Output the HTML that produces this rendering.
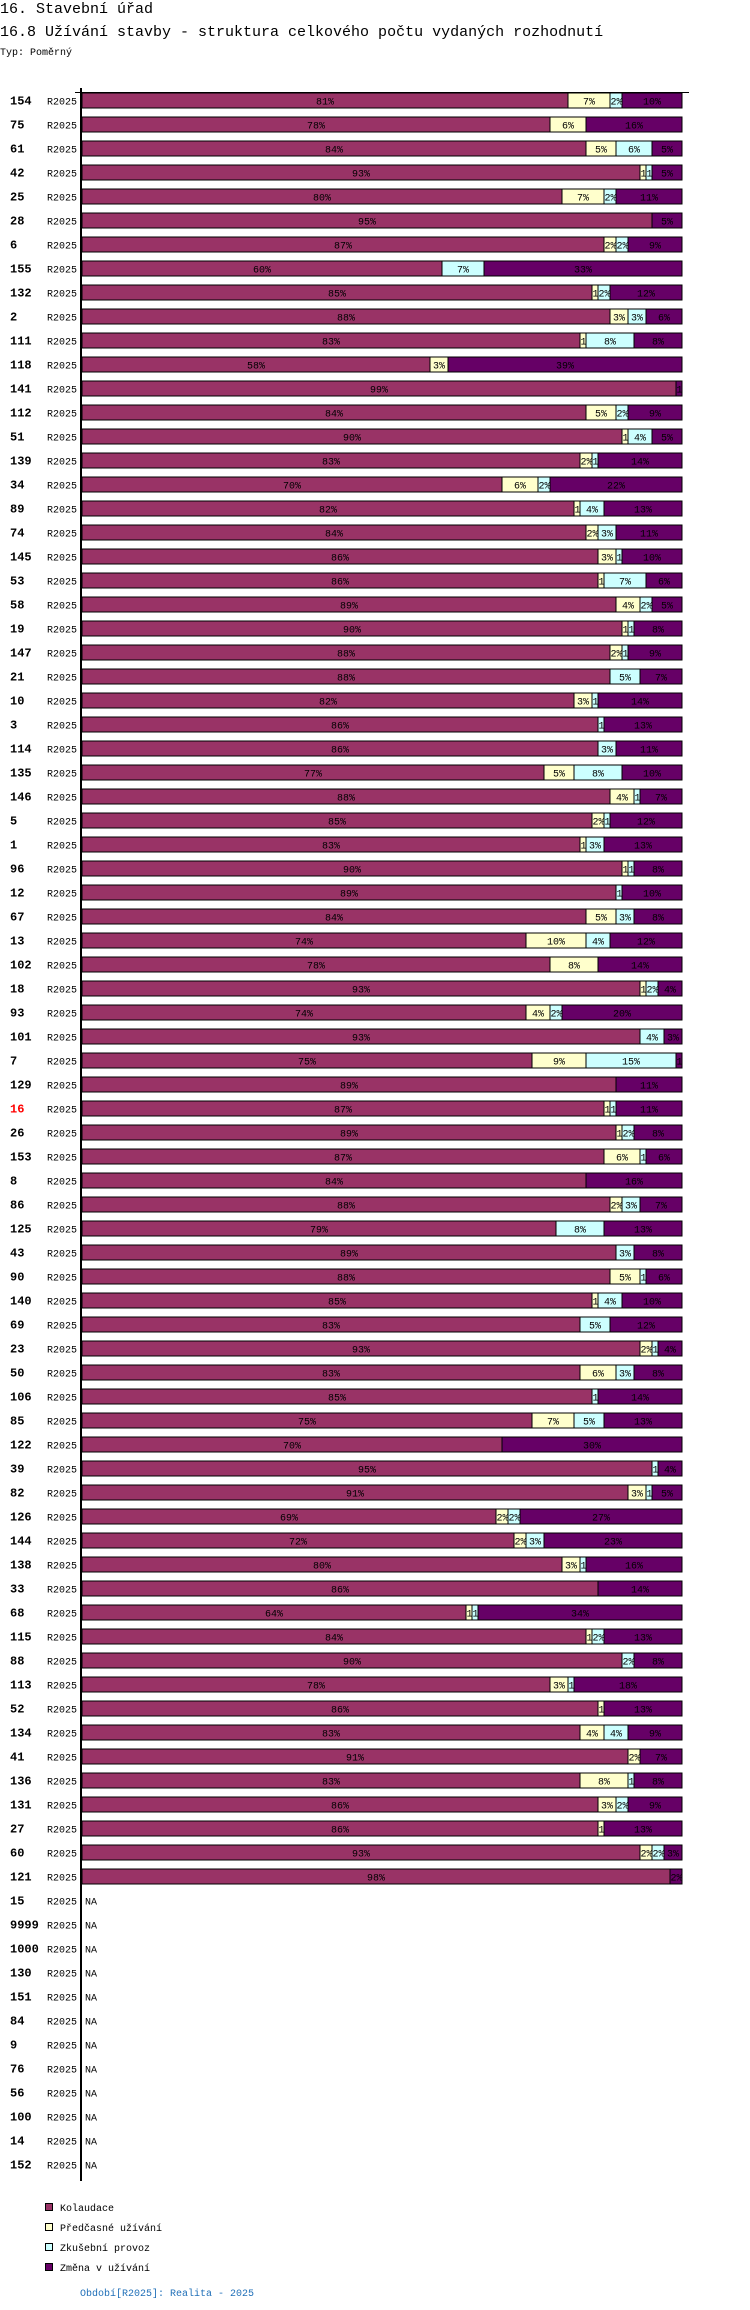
<!DOCTYPE html>
<html><head><meta charset="utf-8">
<style>
html,body{margin:0;padding:0;background:#fff;}
svg{display:block;}
text{font-family:"Liberation Mono",monospace;}
</style></head>
<body>
<svg id="chart" width="750" height="2310" viewBox="0 0 750 2310" xmlns="http://www.w3.org/2000/svg">
<text x="0" y="13" font-size="15">16. Stavební úřad</text>
<text x="0" y="36" font-size="15">16.8 Užívání stavby - struktura celkového počtu vydaných rozhodnutí</text>
<text x="0" y="55" font-size="10">Typ: Poměrný</text>
<g id="rows"></g>
<line x1="75" y1="92.5" x2="689" y2="92.5" stroke="#000" stroke-width="1"/>
<line x1="81" y1="88" x2="81" y2="2181" stroke="#000" stroke-width="2"/>
<g>
<rect x="45.5" y="2203.5" width="7" height="7" fill="#993366" stroke="#000"/>
<text x="60" y="2211" font-size="10">Kolaudace</text>
<rect x="45.5" y="2223.5" width="7" height="7" fill="#ffffcc" stroke="#000"/>
<text x="60" y="2231" font-size="10">Předčasné užívání</text>
<rect x="45.5" y="2243.5" width="7" height="7" fill="#ccffff" stroke="#000"/>
<text x="60" y="2251" font-size="10">Zkušební provoz</text>
<rect x="45.5" y="2263.5" width="7" height="7" fill="#660066" stroke="#000"/>
<text x="60" y="2271" font-size="10">Změna v užívání</text>
</g>
<text x="80" y="2296" font-size="10" fill="#1f6fb8">Období[R2025]: Realita - 2025</text>
</svg>
<script>
const categories = ["154","75","61","42","25","28","6","155","132","2","111","118","141","112","51","139","34","89","74","145","53","58","19","147","21","10","3","114","135","146","5","1","96","12","67","13","102","18","93","101","7","129","16","26","153","8","86","125","43","90","140","69","23","50","106","85","122","39","82","126","144","138","33","68","115","88","113","52","134","41","136","131","27","60","121","15","9999","1000","130","151","84","9","76","56","100","14","152"];
const kolaudace = [81,78,84,93,80,95,87,60,85,88,83,58,99,84,90,83,70,82,84,86,86,89,90,88,88,82,86,86,77,88,85,83,90,89,84,74,78,93,74,93,75,89,87,89,87,84,88,79,89,88,85,83,93,83,85,75,70,95,91,69,72,80,86,64,84,90,78,86,83,91,83,86,86,93,98];
const predcasne = [7,6,5,1,7,0,2,0,1,3,1,3,0,5,1,2,6,1,2,3,1,4,1,2,0,3,0,0,5,4,2,1,1,0,5,10,8,1,4,0,9,0,1,1,6,0,2,0,0,5,1,0,2,6,0,7,0,0,3,2,2,3,0,1,1,0,3,1,4,2,8,3,1,2,0];
const zkusebni = [2,0,6,1,2,0,2,7,2,3,8,0,0,2,4,1,2,4,3,1,7,2,1,1,5,1,1,3,8,1,1,3,1,1,3,4,0,2,2,4,15,0,1,2,1,0,3,8,3,1,4,5,1,3,1,5,0,1,1,2,3,1,0,1,2,2,1,0,4,0,1,2,0,2,0];
const zmena = [10,16,5,5,11,5,9,33,12,6,8,39,1,9,5,14,22,13,11,10,6,5,8,9,7,14,13,11,10,7,12,13,8,10,8,12,14,4,20,3,1,11,11,8,6,16,7,13,8,6,10,12,4,8,14,13,30,4,5,27,23,16,14,34,13,8,18,13,9,7,8,9,13,3,2];
const seriesList = [kolaudace, predcasne, zkusebni, zmena];
const seriesNames = ["kolaudace","predcasne","zkusebni","zmena"];
const colors = ["#993366","#ffffcc","#ccffff","#660066"];
const NS = "http://www.w3.org/2000/svg";
const X0 = 82, XW = 600, Y0 = 93, PITCH = 24, BH = 15;
function xScale(v, total){ return v / total * XW; }
function yRow(i){ return Y0 + i * PITCH; }
const g = document.getElementById('rows');
categories.forEach((cat, i) => {
  const y = yRow(i);
  const lab = document.createElementNS(NS,'text');
  
  
  lab.setAttribute('x', 10); lab.setAttribute('y', y + 11.5);
  lab.setAttribute('font-size', 12); lab.setAttribute('font-weight', 'bold');
  if (cat === "16") lab.setAttribute('fill', '#ff0000');
  lab.textContent = cat; g.appendChild(lab);
  const per = document.createElementNS(NS,'text');
  
  
  per.setAttribute('x', 47); per.setAttribute('y', y + 11.5);
  per.setAttribute('font-size', 10);
  per.textContent = 'R2025'; g.appendChild(per);
  if (i >= kolaudace.length) {
    const na = document.createElementNS(NS,'text');
    
    
    na.setAttribute('x', 85); na.setAttribute('y', y + 11.5);
    na.setAttribute('font-size', 10);
    na.textContent = 'NA'; g.appendChild(na);
    return;
  }
  const vals = seriesList.map(s => s[i]);
  const total = vals.reduce((a,b)=>a+b,0);
  let x = X0;
  vals.forEach((v, k) => {
    if (v <= 0) return;
    const w = xScale(v, total);
    const r = document.createElementNS(NS,'rect');
    
    
    r.setAttribute('x', x); r.setAttribute('y', y);
    r.setAttribute('width', w); r.setAttribute('height', BH);
    r.setAttribute('fill', colors[k]); r.setAttribute('stroke', '#000'); r.setAttribute('stroke-width', 1);
    g.appendChild(r);
    const clip = document.createElementNS(NS,'svg');
    clip.setAttribute('x', x); clip.setAttribute('y', y);
    clip.setAttribute('width', Math.max(w, 0)); clip.setAttribute('height', BH);
    const t = document.createElementNS(NS,'text');
    
    
    t.setAttribute('x', w/2); t.setAttribute('y', 11.5);
    t.setAttribute('font-size', 10); t.setAttribute('text-anchor', w < 14 ? 'start' : 'middle');
    if (w < 14) t.setAttribute('x', 0.5);
    t.textContent = v + '%';
    clip.appendChild(t); g.appendChild(clip);
    x += w;
  });
});
</script>
</body></html>
